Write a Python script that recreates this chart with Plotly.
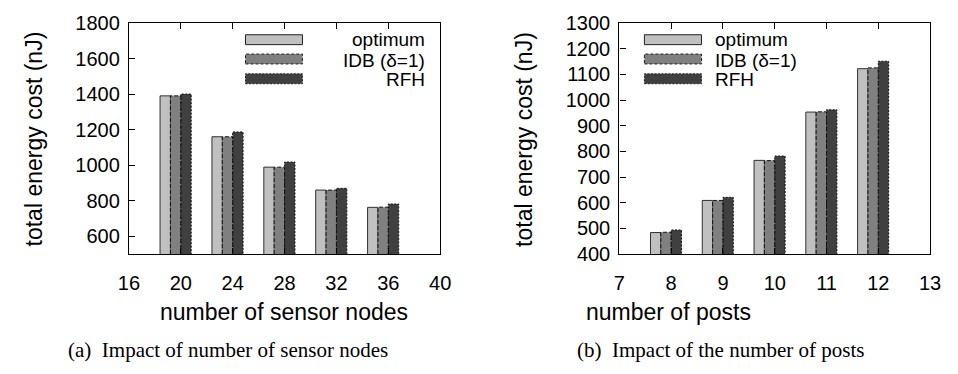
import plotly.graph_objects as go

# ---------------- data ----------------
series_names = ["optimum", "IDB (δ=1)", "RFH"]

nodes = [20, 24, 28, 32, 36]
nodes_optimum = [1390, 1160, 989, 860, 763]
nodes_idb = [1390, 1160, 989, 860, 764]
nodes_rfh = [1400, 1187, 1018, 870, 782]

posts = [8, 9, 10, 11, 12]
posts_optimum = [484, 609, 765, 953, 1122]
posts_idb = [485, 609, 764, 954, 1125]
posts_rfh = [494, 621, 782, 962, 1151]

left_xticks = [16, 20, 24, 28, 32, 36, 40]
left_yticks = [600, 800, 1000, 1200, 1400, 1600, 1800]
right_xticks = [7, 8, 9, 10, 11, 12, 13]
right_yticks = [400, 500, 600, 700, 800, 900, 1000, 1100, 1200, 1300]

# ---------------- style ----------------
W, H = 958, 374
fills = ["#c0c0c0", "#808080", "#404040"]
dashes = [None, "4px,2px", "2px,1.5px"]
FONT = "Liberation Sans, Arial, sans-serif"
SERIF = "Liberation Serif, Times New Roman, serif"
FS_TICK = 20
FS_TITLE = 23
FS_LEG = 19
FS_CAP = 21

def px_x(p):
    return p / W

def px_y(p):
    return 1 - p / H

fig = go.Figure()

def add_panel(xs, ys_list, xref, yref, width, ybase):
    offsets = [-2 * width, -width, 0.0]
    for i, ys in enumerate(ys_list):
        fig.add_trace(go.Bar(
            x=xs, y=ys, width=width, offset=offsets[i],
            marker=dict(color=fills[i],
                        line=dict(color="#303030", width=1 if dashes[i] is None else 0)),
            xaxis=xref, yaxis=yref, showlegend=False, hoverinfo="skip",
        ))
    for i, ys in enumerate(ys_list):
        if dashes[i] is None:
            continue
        ox, oy = [], []
        for x, y in zip(xs, ys):
            xl = x + offsets[i]
            xr = xl + width
            ox += [xl, xl, xr, xr, None]
            oy += [ybase, y, y, ybase, None]
        fig.add_trace(go.Scatter(
            x=ox, y=oy, mode="lines",
            line=dict(color="#111111", width=1, dash=dashes[i]),
            xaxis=xref, yaxis=yref, showlegend=False, hoverinfo="skip",
        ))

add_panel(nodes, [nodes_optimum, nodes_idb, nodes_rfh], "x", "y", 0.8, 500)
add_panel(posts, [posts_optimum, posts_idb, posts_rfh], "x2", "y2", 0.2, 400)

ydom = [px_y(258.3), px_y(12.7)]
axis_common = dict(
    showline=True, linecolor="black", linewidth=1.3,
    ticks="inside", ticklen=6, tickwidth=1.3, tickcolor="black",
    showgrid=False, zeroline=False,
    tickfont=dict(family=FONT, size=FS_TICK, color="black"),
)
xcommon = dict(mirror="ticks", ticklabelstandoff=11, **axis_common)
ycommon = dict(mirror=True, ticklabelstandoff=4, **axis_common)
fig.update_layout(
    width=W, height=H,
    margin=dict(l=0, r=0, t=0, b=0),
    paper_bgcolor="white", plot_bgcolor="white",
    barmode="overlay",
    showlegend=False,
    xaxis=dict(domain=[px_x(120.7), px_x(439.3)], range=[16, 40],
               tickvals=left_xticks, anchor="y", **xcommon),
    yaxis=dict(domain=ydom, range=[500, 1800], tickvals=left_yticks,
               anchor="x", **ycommon),
    xaxis2=dict(domain=[px_x(622.7), px_x(940.7)], range=[7, 13],
                tickvals=right_xticks, anchor="y2", **xcommon),
    yaxis2=dict(domain=ydom, range=[400, 1300], tickvals=right_yticks,
                anchor="x2", **ycommon),
)

# ---------------- manual legends ----------------
rows_y = [30.5, 51.0, 72.0]
text_y = [30.5, 52.5, 73.0]
box_h = 10.5

def legend(box_x0, box_x1, text_x, anchor):
    for i, name in enumerate(series_names):
        cy = rows_y[i]
        line = dict(color="#202020", width=1)
        if dashes[i] is not None:
            line["dash"] = "3px,2px" if i == 1 else "2px,1.5px"
        fig.add_shape(type="rect", xref="paper", yref="paper",
                      x0=px_x(box_x0), x1=px_x(box_x1),
                      y0=px_y(cy + box_h / 2), y1=px_y(cy - box_h / 2),
                      fillcolor=fills[i], line=line)
        fig.add_annotation(xref="paper", yref="paper", x=px_x(text_x), y=px_y(text_y[i]),
                           text=name, showarrow=False, xanchor=anchor,
                           yanchor="middle",
                           font=dict(family=FONT, size=FS_LEG, color="black"))

legend(240, 298.3, 426, "right")
legend(648.3, 706.7, 719, "left")

# ---------------- axis titles & captions ----------------
def ann(x, y, text, size, family=FONT, angle=0):
    fig.add_annotation(xref="paper", yref="paper", x=px_x(x), y=px_y(y),
                       text=text, showarrow=False, xanchor="center",
                       yanchor="middle", textangle=angle,
                       font=dict(family=family, size=size, color="black"))

ann(24, 136, "total energy cost (nJ)", FS_TITLE, angle=-90)
ann(525, 136, "total energy cost (nJ)", FS_TITLE, angle=-90)
ann(279, 320, "number of sensor nodes", FS_TITLE)
ann(673, 320, "number of posts", FS_TITLE)
ann(222, 360, "(a)  Impact of number of sensor nodes", FS_CAP, family=SERIF)
ann(727, 360, "(b)  Impact of the number of posts", FS_CAP, family=SERIF)

fig.write_html("out.html")
